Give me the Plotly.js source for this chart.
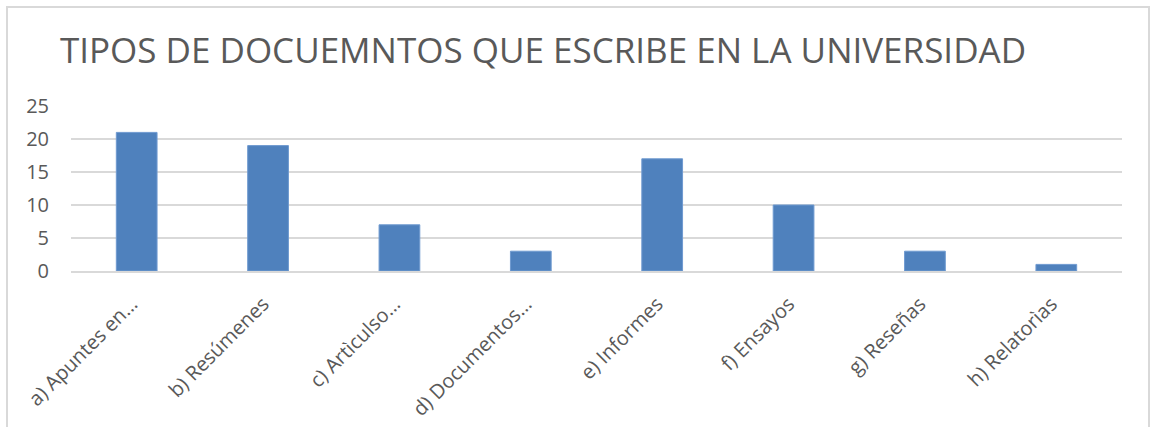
<!DOCTYPE html>
<html>
<head>
<meta charset="utf-8">
<script src="https://cdn.plot.ly/plotly-3.0.1.min.js"></script>
<style>
  html, body { margin: 0; padding: 0; background: #ffffff; }
  #wrap { position: relative; width: 1158px; height: 427px; overflow: hidden; }
  #frame { position: absolute; left: 6px; top: 6px; width: 1144px; height: 440px; border: 2px solid #d9d9d9; box-sizing: border-box; pointer-events: none; }
  #chart { position: absolute; left: 0; top: 0; width: 1158px; height: 427px; }
</style>
</head>
<body>
<div id="wrap">
  <div id="chart"></div>
  <div id="frame"></div>
</div>
<script>
const categories = [
  "a) Apuntes en…",
  "b) Resúmenes",
  "c) Artìculso…",
  "d) Documentos…",
  "e) Informes",
  "f) Ensayos",
  "g) Reseñas",
  "h) Relatorìas"
];
const values = [21, 19, 7, 3, 17, 10, 3, 1];
const yTicks = [0, 5, 10, 15, 20, 25];
const chartTitle = "TIPOS DE DOCUEMNTOS QUE ESCRIBE EN LA UNIVERSIDAD";

const trace = {
  type: "bar",
  x: categories,
  y: values,
  marker: { color: "#4f81bd", line: { color: "#6f9ad0", width: 1 } },
  hoverinfo: "x+y"
};

const layout = {
  width: 1158,
  height: 427,
  margin: { l: 71, r: 36, t: 106, b: 156, pad: 0 },
  paper_bgcolor: "rgba(0,0,0,0)",
  plot_bgcolor: "rgba(0,0,0,0)",
  bargap: 0.69,
  showlegend: false,
  font: { family: "Open Sans, sans-serif", color: "#595959" },
  title: {
    text: chartTitle,
    font: { family: "Open Sans, sans-serif", size: 35, color: "#595959" },
    x: 543 / 1158, xref: "container", xanchor: "center",
    y: 1 - 51 / 427, yref: "container", yanchor: "middle"
  },
  xaxis: {
    type: "category",
    tickangle: -45,
    tickfont: { family: "Open Sans, sans-serif", size: 20, color: "#595959" },
    showgrid: false,
    showline: true,
    linecolor: "#d9d9d9",
    linewidth: 1.5,
    ticks: "",
    ticklabelstandoff: 12,
    ticklabelshift: -5,
    automargin: false
  },
  yaxis: {
    range: [yTicks[0], yTicks[yTicks.length - 1]],
    tickmode: "array",
    tickvals: yTicks,
    ticktext: yTicks.map(String),
    tickfont: { family: "Open Sans, sans-serif", size: 20, color: "#595959" },
    showgrid: true,
    gridcolor: "#d9d9d9",
    gridwidth: 1.5,
    zeroline: false,
    showline: false,
    ticks: "",
    ticklabelstandoff: 21,
    automargin: false
  }
};

Plotly.newPlot("chart", [trace], layout, { displayModeBar: false, staticPlot: true });
</script>
</body>
</html>
